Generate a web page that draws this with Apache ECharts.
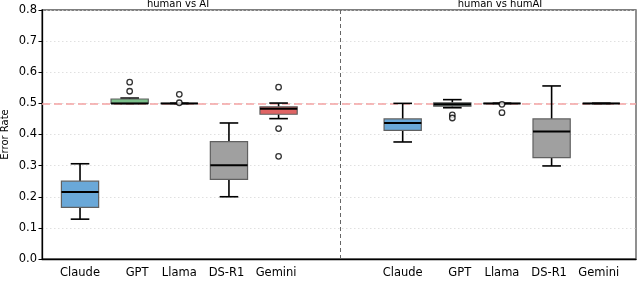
<!DOCTYPE html>
<html><head><meta charset="utf-8">
<script src="https://cdn.jsdelivr.net/npm/echarts@6/dist/echarts.min.js"></script>
<style>html,body{margin:0;padding:0;background:#fff}#c{width:640px;height:282px}</style>
</head><body><div id="c"></div>
<script>
// ---- data ----
const categories = ['Claude', 'GPT', 'Llama', 'DS-R1', 'Gemini'];
const groupTitles = ['human vs AI', 'human vs humAI'];
// [lowWhisker, q1, median, q3, highWhisker]
const statsHumanVsAI = [
  [0.128, 0.166, 0.215, 0.250, 0.306],
  [0.500, 0.500, 0.500, 0.514, 0.517],
  [0.500, 0.500, 0.500, 0.500, 0.500],
  [0.200, 0.256, 0.301, 0.377, 0.437],
  [0.451, 0.465, 0.483, 0.489, 0.501]
];
const outliersHumanVsAI = [
  [],
  [0.539, 0.568],
  [0.502, 0.529],
  [],
  [0.552, 0.419, 0.330]
];
const statsHumanVsHumAI = [
  [0.376, 0.413, 0.437, 0.450, 0.500],
  [0.486, 0.491, 0.497, 0.502, 0.512],
  [0.500, 0.500, 0.500, 0.500, 0.500],
  [0.299, 0.326, 0.410, 0.450, 0.556],
  [0.500, 0.500, 0.500, 0.500, 0.500]
];
const outliersHumanVsHumAI = [
  [],
  [0.463, 0.453],
  [0.497, 0.470],
  [],
  []
];
const chanceLevel = 0.5;
const yTicks = [0.0, 0.1, 0.2, 0.3, 0.4, 0.5, 0.6, 0.7, 0.8];

// ---- styling / layout ----
const colorsAI = ['#6aa8d8', '#7cc08b', '#f0a860', '#a0a0a0', '#e06464'];
const colorsHumAI = ['#6aa8d8', '#6c7e78', '#f0a860', '#a0a0a0', '#a0a0a0'];
const groupStart = [0, 6.5];
const boxWidth = 0.75;
const labelShift = [0, 0.15, 0, -0.05, -0.05];
const font = 'DejaVu Sans';

const boxes = [], outs = [], labelPos = [], labelText = [];
[[statsHumanVsAI, outliersHumanVsAI, colorsAI], [statsHumanVsHumAI, outliersHumanVsHumAI, colorsHumAI]].forEach(([st, ol, cols], g) => {
  categories.forEach((c, i) => {
    const p = groupStart[g] + i;
    boxes.push({ value: [p].concat(st[i]), color: cols[i] });
    ol[i].forEach(v => outs.push([p, v]));
    labelPos.push(+(p + labelShift[i]).toFixed(3));
    labelText.push(c);
  });
});
const divider = (groupStart[0] + categories.length - 1 + groupStart[1]) / 2;

const chart = echarts.init(document.getElementById('c'), null, { renderer: 'canvas' });
chart.setOption({
  animation: false,
  textStyle: { fontFamily: font },
  grid: { left: 42, right: 4, top: 10, bottom: 23, outerBoundsMode: 'none', containLabel: false, show: true, borderColor: '#555', borderWidth: 1.3, backgroundColor: 'transparent' },
  graphic: groupTitles.map((t, g) => ({
    type: 'text', z: 100,
    x: g === 0 ? 178 : 500, y: 9,
    style: { text: t, fontFamily: font, fontSize: 10, fill: '#000', align: 'center', verticalAlign: 'bottom' }
  })),
  xAxis: {
    type: 'value', min: -0.766, max: 11.2,
    axisLine: { show: true, onZero: false, lineStyle: { color: '#000', width: 1.3 } },
    axisTick: { show: false },
    splitLine: { show: false },
    axisLabel: {
      customValues: labelPos,
      formatter: v => { const i = labelPos.findIndex(p => Math.abs(p - v) < 1e-6); return i >= 0 ? labelText[i] : ''; },
      fontFamily: font, fontSize: 11.5, color: '#000', margin: 8
    }
  },
  yAxis: {
    type: 'value', min: 0, max: 0.8, interval: 0.1,
    name: 'Error Rate', nameLocation: 'middle', nameGap: 32, nameRotate: 90, nameMoveOverlap: false,
    nameTextStyle: { fontFamily: font, fontSize: 10, color: '#000' },
    axisLine: { show: true, onZero: false, lineStyle: { color: '#000', width: 1.3 } },
    axisTick: { show: true, length: 3.5, lineStyle: { color: '#000', width: 1 } },
    axisLabel: { fontFamily: font, fontSize: 11.5, color: '#000', margin: 5, formatter: v => yTicks.includes(+v.toFixed(1)) ? v.toFixed(1) : '' },
    splitLine: { show: true, lineStyle: { color: '#d8d8d8', type: [1.5, 2.5], width: 0.8 } }
  },
  series: [
    {
      type: 'custom', z: 3,
      data: boxes,
      renderItem: (params, api) => {
        const p = api.value(0);
        const lo = api.coord([p, api.value(1)]);
        const q1 = api.coord([p, api.value(2)]);
        const md = api.coord([p, api.value(3)]);
        const q3 = api.coord([p, api.value(4)]);
        const hi = api.coord([p, api.value(5)]);
        const w = api.size([boxWidth, 0])[0];
        const cw = w / 2;
        const x = lo[0];
        const color = boxes[params.dataIndex].color;
        const blk = { stroke: '#000', lineWidth: 1.6 };
        return {
          type: 'group',
          children: [
            { type: 'line', shape: { x1: x, y1: q1[1], x2: x, y2: lo[1] }, style: blk },
            { type: 'line', shape: { x1: x, y1: q3[1], x2: x, y2: hi[1] }, style: blk },
            { type: 'line', shape: { x1: x - cw / 2, y1: lo[1], x2: x + cw / 2, y2: lo[1] }, style: blk },
            { type: 'line', shape: { x1: x - cw / 2, y1: hi[1], x2: x + cw / 2, y2: hi[1] }, style: blk },
            { type: 'rect', shape: { x: x - w / 2, y: q3[1], width: w, height: q1[1] - q3[1] }, style: { fill: color, stroke: '#606060', lineWidth: 1.2 } },
            { type: 'line', shape: { x1: x - w / 2, y1: md[1], x2: x + w / 2, y2: md[1] }, style: { stroke: '#000', lineWidth: 2 } }
          ]
        };
      }
    },
    {
      type: 'scatter', z: 4,
      data: outs,
      symbol: 'circle', symbolSize: 5.5,
      itemStyle: { color: '#fff', borderColor: '#000', borderWidth: 1.3 },
      markLine: {
        silent: true, symbol: 'none', label: { show: false }, z: 1,
        data: [
          { yAxis: chanceLevel, lineStyle: { color: '#f4a3a3', type: [8, 4], width: 1.5 } },
          { xAxis: divider, lineStyle: { color: '#666', type: [4, 3], width: 1 } }
        ]
      }
    }
  ]
});
</script></body></html>
